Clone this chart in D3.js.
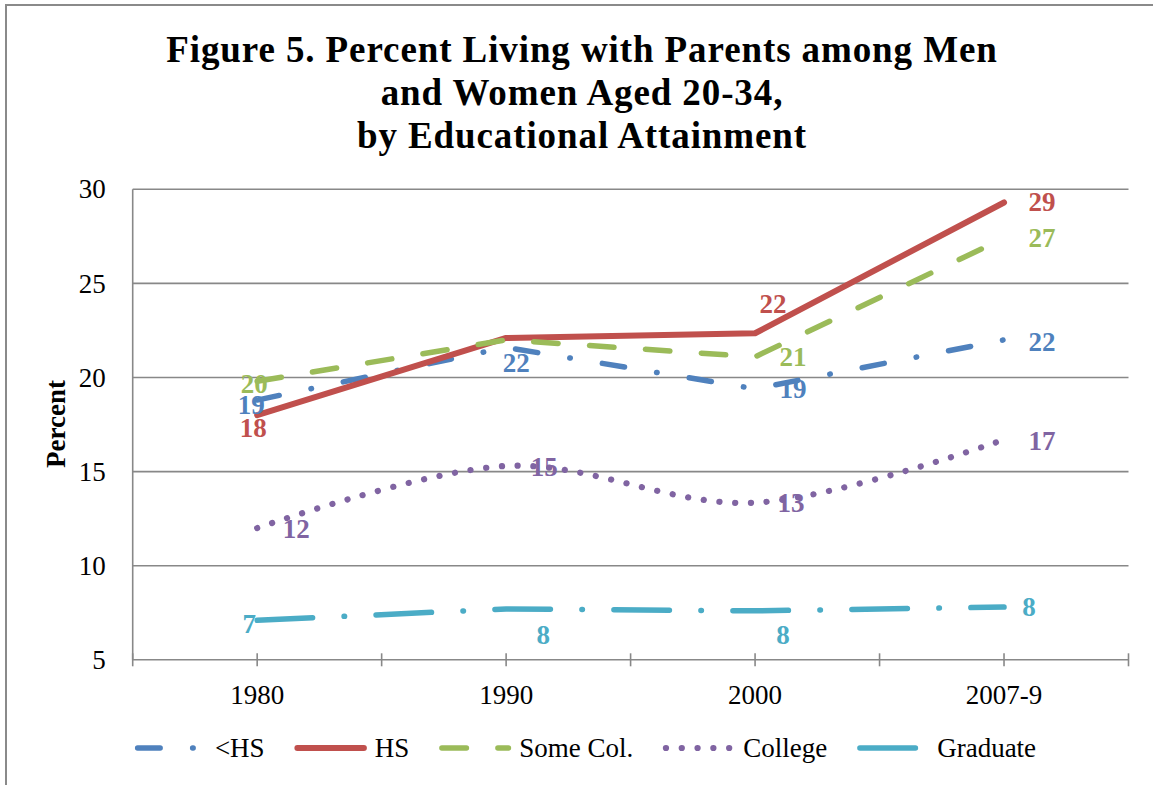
<!DOCTYPE html>
<html>
<head>
<meta charset="utf-8">
<script src="https://cdn.jsdelivr.net/npm/d3@7/dist/d3.min.js"></script>
<style>
  html, body { margin: 0; padding: 0; background: #fff; }
  svg { display: block; }
  text { font-family: "Liberation Serif", "Times New Roman", serif; }
</style>
</head>
<body>
<svg id="chart" width="1153" height="785"></svg>
<script>
// Percent living with parents, ages 20-34, by educational attainment
const categories = ["1980", "1990", "2000", "2007-9"];
const seriesNames = ["<HS", "HS", "Some Col.", "College", "Graduate"];
const lessThanHS  = [18.8, 21.6, 19.4, 22.0];
const highSchool  = [18.0, 22.1, 22.35, 29.3];
const someCollege = [19.8, 22.0, 21.1, 27.4];
const college     = [12.0, 15.3, 13.35, 16.7];
const graduate    = [7.1, 7.7, 7.6, 7.8];
const yTicks = [5, 10, 15, 20, 25, 30];
const titleLines = [
  "Figure 5. Percent Living with Parents among Men",
  "and Women Aged 20-34,",
  "by Educational Attainment"
];

// Label placement (offset of the label centre from its point; null = no label)
const labelOffsets = [
  [[-6, 5], [10, 16], [38, 0], [38, 2]],
  [[-4, 13], null, [18, -29], [38, 0]],
  [[-3, 3], null, [38, 0], [38, 0]],
  [[39, 1], [38, 1], [36, 0], [38, 1]],
  [[-8, 4], [37, 26], [28, 24], [25, 0]]
];

const styles = [
  { color: "#4F81BD", width: 5.5, dash: "22.5,32.5,0.5,32.5", curve: d3.curveLinear },
  { color: "#C0504D", width: 6,   dash: null,                 curve: d3.curveLinear },
  { color: "#9BBB59", width: 5.5, dash: "24.5,31.5",          curve: d3.curveLinear },
  { color: "#8064A2", width: 6.2, dash: "0.1,15.7",           curve: d3.curveCardinal.tension(0) },
  { color: "#4BACC6", width: 5.5, dash: "55.5,31.5,0.5,31.5", curve: d3.curveLinear }
];

const seriesValues = [lessThanHS, highSchool, someCollege, college, graduate];
const series = seriesNames.map((name, i) => ({ name, values: seriesValues[i], style: styles[i], labels: labelOffsets[i] }));

const svg = d3.select("#chart");
const gray = "#888888";

// outer frame (top and left edges)
svg.append("path")
  .attr("d", "M6,785 L6,5 L1153,5")
  .attr("fill", "none").attr("stroke", "#8a8a8a").attr("stroke-width", 2);

// title
const title = svg.append("text")
  .attr("text-anchor", "middle")
  .attr("font-weight", "bold")
  .attr("font-size", 37)
  .attr("letter-spacing", 0.9)
  .attr("fill", "#000");
titleLines.forEach((t, i) => {
  title.append("tspan").attr("x", 582).attr("y", 62 + i * 43).text(t);
});

const plotLeft = 132.7, plotRight = 1128.5, plotTop = 189.3, plotBottom = 659.8;
const x = d3.scaleBand().domain(categories).range([plotLeft, plotRight]).paddingInner(0).paddingOuter(0);
const bw = x.bandwidth();
const cx = c => x(c) + bw / 2;
const y = d3.scaleLinear().domain([5, 30]).range([plotBottom, plotTop]);

// gridlines
svg.append("g").selectAll("line")
  .data(yTicks.filter(v => v > 5))
  .join("line")
  .attr("x1", plotLeft).attr("x2", plotRight)
  .attr("y1", d => y(d)).attr("y2", d => y(d))
  .attr("stroke", gray).attr("stroke-width", 1.6);

// y axis
const yAxis = svg.append("g")
  .attr("transform", `translate(${plotLeft},0)`)
  .call(d3.axisLeft(y).tickValues(yTicks).tickSize(0).tickPadding(27).tickFormat(d3.format("d")));
yAxis.select(".domain").remove();
yAxis.selectAll("text")
  .attr("font-family", "Liberation Serif, serif")
  .attr("font-size", 27).attr("fill", "#000");
svg.append("line")
  .attr("x1", plotLeft).attr("x2", plotLeft).attr("y1", plotTop).attr("y2", plotBottom)
  .attr("stroke", gray).attr("stroke-width", 1.6);

// x axis
const xAxis = svg.append("g")
  .attr("transform", `translate(0,${plotBottom})`)
  .call(d3.axisBottom(x).tickSize(0).tickPadding(25));
xAxis.select(".domain").remove();
xAxis.selectAll("text")
  .attr("font-family", "Liberation Serif, serif")
  .attr("font-size", 27).attr("fill", "#000");
svg.append("line")
  .attr("x1", plotLeft).attr("x2", plotRight).attr("y1", plotBottom).attr("y2", plotBottom)
  .attr("stroke", gray).attr("stroke-width", 1.6);
const tickXs = [];
categories.forEach(c => { tickXs.push(x(c)); tickXs.push(cx(c)); });
tickXs.push(plotRight);
svg.append("g").selectAll("line")
  .data(tickXs)
  .join("line")
  .attr("x1", d => d).attr("x2", d => d)
  .attr("y1", plotBottom - 6.5).attr("y2", plotBottom + 6.5)
  .attr("stroke", gray).attr("stroke-width", 1.6);

// y axis title
svg.append("text")
  .attr("transform", "translate(65,424) rotate(-90)")
  .attr("text-anchor", "middle")
  .attr("font-weight", "bold")
  .attr("font-size", 27)
  .text("Percent");

// series lines
const lineGen = d3.line().x((d, i) => cx(categories[i])).y(d => y(d));
series.forEach(s => {
  svg.append("path")
    .datum(s.values)
    .attr("d", lineGen.curve(s.style.curve))
    .attr("fill", "none")
    .attr("stroke", s.style.color)
    .attr("stroke-width", s.style.width)
    .attr("stroke-linecap", "round")
    .attr("stroke-linejoin", "round")
    .attr("stroke-dasharray", s.style.dash);
});

// data labels
const fmt = d3.format(".0f");
const labelSize = 27;
series.forEach(s => {
  s.values.forEach((v, i) => {
    const off = s.labels[i];
    if (!off) return;
    svg.append("text")
      .attr("x", cx(categories[i]) + off[0])
      .attr("y", y(v) + off[1] + labelSize * 0.33)
      .attr("text-anchor", "middle")
      .attr("font-weight", "bold")
      .attr("font-size", labelSize)
      .attr("fill", s.style.color)
      .text(fmt(v));
  });
});

// legend
const legend = svg.append("g");
const sampleLen = 72, textGap = 8, itemGap = 30, legendY = 748;
let lx = 0;
series.forEach(s => {
  const g = legend.append("g").attr("transform", `translate(${lx},0)`);
  g.append("line")
    .attr("x1", 2.75).attr("x2", sampleLen - 2.75)
    .attr("y1", legendY).attr("y2", legendY)
    .attr("stroke", s.style.color)
    .attr("stroke-width", s.style.width)
    .attr("stroke-linecap", "round")
    .attr("stroke-dasharray", s.style.dash);
  const t = g.append("text")
    .attr("x", sampleLen + textGap)
    .attr("y", legendY + 9)
    .attr("font-size", 27)
    .attr("fill", "#000")
    .text(s.name);
  const w = t.node().getComputedTextLength();
  lx += sampleLen + textGap + w + itemGap;
});
const legendWidth = lx - itemGap;
legend.attr("transform", `translate(${585.5 - legendWidth / 2},0)`);
</script>
</body>
</html>
